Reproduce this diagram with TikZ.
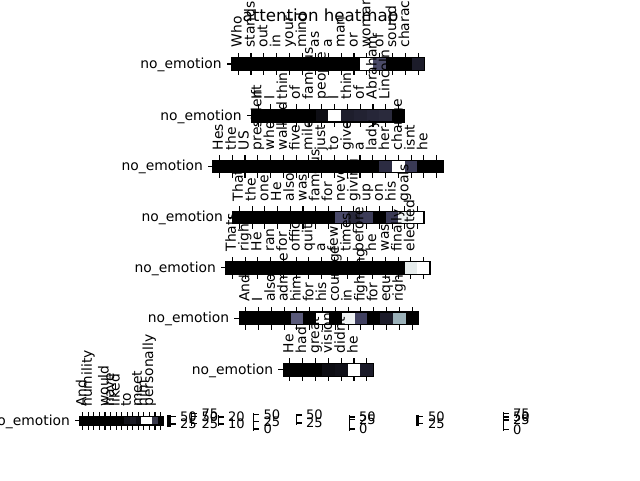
\documentclass[tikz,border=0pt]{standalone}
\usepackage{fontspec}
\setmainfont{DejaVu Sans}
\usetikzlibrary{calc}

\definecolor{bz}{HTML}{000000}
\definecolor{wt}{HTML}{FFFFFF}
\definecolor{hA}{HTML}{4A4A68}
\definecolor{hB}{HTML}{1C1C2A}
\definecolor{hC}{HTML}{0E0E14}
\definecolor{hD}{HTML}{1E1E2C}
\definecolor{hE}{HTML}{222232}
\definecolor{hF}{HTML}{262638}
\definecolor{hG}{HTML}{2A2A3C}
\definecolor{hH}{HTML}{2C2C42}
\definecolor{hI}{HTML}{3A3A55}
\definecolor{hJ}{HTML}{4A4A6A}
\definecolor{hK}{HTML}{28283A}
\definecolor{hL}{HTML}{3C3C58}
\definecolor{hM}{HTML}{EEF2F3}
\definecolor{hN}{HTML}{E6ECEC}
\definecolor{hO}{HTML}{5A5A7A}
\definecolor{hP}{HTML}{EEF2F4}
\definecolor{hQ}{HTML}{404060}
\definecolor{hR}{HTML}{9AB0B8}
\definecolor{hS}{HTML}{0C0C12}
\definecolor{hT}{HTML}{101018}
\definecolor{hU}{HTML}{3A3A4C}
\definecolor{hV}{HTML}{1C1C26}
\definecolor{hW}{HTML}{121218}

\newcommand\lblfont{\fontsize{10.4}{12}\selectfont}
\newcommand\ttlfont{\fontsize{12.5}{15}\selectfont}
\newcommand\cbfont{\fontsize{9.8}{11}\selectfont}

\tikzset{
  axtick/.style={line width=0.83pt},
  spine/.style={line width=0.83pt},
  tok/.style={rotate=90, anchor=west, inner sep=0pt, font=\lblfont, text height=7.9pt, text depth=2.5pt},
  rowlbl/.style={anchor=base east, inner sep=0pt, font=\lblfont},
  cblbl/.style={anchor=west, inner sep=0pt, font=\cbfont},
}

% name, x0, top, cell w, cell h, cells, colours, tokens
\newcommand\heatrow[8]{%
  \foreach \c [count=\i from 0] in {#7}{
    \fill[\c] ({#2+\i*#4},#3) rectangle ({#2+(\i+1)*#4},{#3+#5});
    \draw[axtick] ({#2+(\i+0.5)*#4},#3) -- ++(0,-4.9);
    \draw[axtick] ({#2+(\i+0.5)*#4},{#3+#5}) -- ++(0,4.9);
  }
  \draw[spine] (#2,#3) rectangle ({#2+#6*#4},{#3+#5});
  \draw[axtick] (#2,{#3+#5/2}) -- ++(-4.9,0);
  \node[rowlbl] (#1lbl) at ({#2-9.8},{#3+#5/2+4.5}) {no\_emotion};
  \foreach \t [count=\i from 0] in {#8}{
    \if\relax\detokenize\expandafter{\t}\relax\else
      \node[tok] (#1t\i) at ({#2+(\i+0.5)*#4},{#3-9.8}) {\t};
    \fi
  }
}

% name, x, bar w, top, bottom, ticks y/label
\newcommand\cbarstrip[6]{%
  \fill[black] (#2,#4) rectangle ({#2+#3},#5);
  \foreach \yy/\v [count=\i] in {#6}{
    \draw[axtick] ({#2+#3},\yy) -- ++(4.9,0);
    \node[cblbl] (#1v\i) at ({#2+#3+9.3},\yy) {\v};
  }
}

\begin{document}
\begin{tikzpicture}[x=0.75pt,y=-0.75pt]
    %%%%% START %%%%%
    \useasboundingbox (0,0) rectangle (640,480);

    \node[font=\ttlfont, anchor=base, inner sep=0pt] (title) at (320.5,21.5) {attention heatmap};

    \heatrow{r1}{231.7}{57.5}{12.87}{13}{15}
      {bz,bz,bz,bz,bz,bz,bz,bz,bz,bz,wt,hA,bz,bz,hB}
      {Who,stands,out,in,your,mind,as,a,man,or,woman,of,sound,character}

    \heatrow{r2}{251.7}{109.2}{12.77}{12.77}{12}
      {bz,bz,bz,bz,bz,hC,wt,hD,hE,hF,hG,bz}
      {If,I,think,of,famous,people,I,think,of,Abraham,Lincoln}

    \heatrow{r3}{213}{160.1}{12.78}{12.78}{18}
      {bz,bz,bz,bz,bz,bz,bz,bz,bz,bz,bz,bz,bz,hH,wt,hI,bz,bz}
      {Hes,the,US,president,who,walked,five,miles,just,to,give,a,lady,her,change,isnt,he}

    \heatrow{r4}{233}{211.1}{12.73}{12.73}{15}
      {bz,bz,bz,bz,bz,bz,bz,bz,hJ,hK,hL,bz,hI,hM,wt}
      {Thats,the,one,He,also,was,famous,for,never,giving,up,on,his,goals}

    \heatrow{r5}{226}{261.4}{12.75}{12.75}{16}
      {bz,bz,bz,bz,bz,bz,bz,bz,bz,bz,bz,bz,bz,bz,hN,wt}
      {Thats,right,He,ran,for,office,quite,a,few,times,before,he,was,finally,elected}

    \heatrow{r6}{239.3}{312}{12.8}{12.8}{14}
      {bz,bz,bz,bz,hO,bz,wt,bz,hP,hQ,bz,hB,hR,bz}
      {And,I,also,admire,him,for,his,courage,in,fighting,for,equal,rights}

    \heatrow{r7}{283.3}{363.3}{12.86}{12.86}{7}
      {bz,bz,bz,hS,hT,wt,hB}
      {He,had,great,vision,didnt,he}

    \heatrow{r8}{80}{416.7}{5.555}{8.3}{15}
      {bz,bz,bz,bz,bz,bz,bz,bz,hW,hV,hC,wt,wt,hU,bz}
      {And,humility,,,would,have,liked,,to,,meet,him,personally}

    % squeezed colour bars
    \cbarstrip{cb1}{167.3}{3.3}{414.5}{426.5}{416.5/50,424/25}
    \cbarstrip{cb2}{191}{1.1}{412}{425.5}{413.5/75,416.5/50,423.5/25}
    \cbarstrip{cb3}{217.5}{1.1}{415}{426}{417/20,424/10}
    \cbarstrip{cb4}{253}{1.1}{413}{430.5}{414.5/50,421.5/25,429/0}
    \cbarstrip{cb5}{295.5}{1.1}{413.5}{424.5}{415/50,423/25}
    \cbarstrip{cb6}{348.5}{1.1}{415}{430.5}{417/50,419.5/25,429/0}
    \cbarstrip{cb7}{415.5}{3}{414.5}{425.5}{416.5/50,423.5/25}
    \cbarstrip{cb8}{502.5}{1.1}{412}{431}{413.5/75,417/50,420/25,429.5/0}

    %%%%% END %%%%%
\end{tikzpicture}
\end{document}
